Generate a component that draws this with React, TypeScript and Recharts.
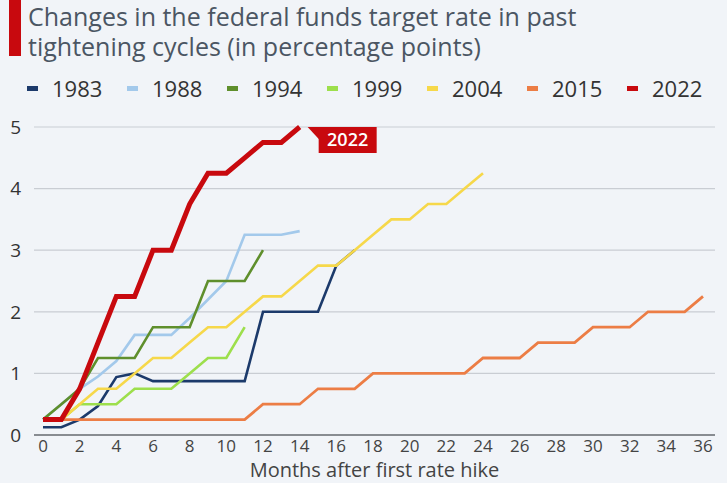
import { LineChart, Line, XAxis, YAxis, CartesianGrid, LabelList } from 'recharts';

const months = [0, 1, 2, 3, 4, 5, 6, 7, 8, 9, 10, 11, 12, 13, 14, 15, 16, 17, 18, 19, 20, 21, 22, 23, 24, 25, 26, 27, 28, 29, 30, 31, 32, 33, 34, 35, 36];
const xTicks = [0, 2, 4, 6, 8, 10, 12, 14, 16, 18, 20, 22, 24, 26, 28, 30, 32, 34, 36];
const yTicks = [0, 1, 2, 3, 4, 5];

const y1983 = [0.125, 0.125, 0.25, 0.47, 0.94, 1.0, 0.875, 0.875, 0.875, 0.875, 0.875, 0.875, 2.0, 2.0, 2.0, 2.0, 2.75, 3.0];
const y1988 = [0.25, 0.5, 0.75, 0.95, 1.2, 1.625, 1.625, 1.625, 1.9, 2.2, 2.5, 3.25, 3.25, 3.25, 3.31];
const y1994 = [0.25, 0.5, 0.75, 1.25, 1.25, 1.25, 1.75, 1.75, 1.75, 2.5, 2.5, 2.5, 3.0];
const y1999 = [0.25, 0.25, 0.5, 0.5, 0.5, 0.75, 0.75, 0.75, 1.0, 1.25, 1.25, 1.75];
const y2004 = [0.25, 0.25, 0.5, 0.75, 0.75, 1.0, 1.25, 1.25, 1.5, 1.75, 1.75, 2.0, 2.25, 2.25, 2.5, 2.75, 2.75, 3.0, 3.25, 3.5, 3.5, 3.75, 3.75, 4.0, 4.25];
const y2015 = [0.25, 0.25, 0.25, 0.25, 0.25, 0.25, 0.25, 0.25, 0.25, 0.25, 0.25, 0.25, 0.5, 0.5, 0.5, 0.75, 0.75, 0.75, 1.0, 1.0, 1.0, 1.0, 1.0, 1.0, 1.25, 1.25, 1.25, 1.5, 1.5, 1.5, 1.75, 1.75, 1.75, 2.0, 2.0, 2.0, 2.25];
const y2022 = [0.25, 0.25, 0.75, 1.5, 2.25, 2.25, 3.0, 3.0, 3.75, 4.25, 4.25, 4.5, 4.75, 4.75, 5.0];

const titleLines = ['Changes in the federal funds target rate in past', 'tightening cycles (in percentage points)'];

const series = [
  { key: '1983', values: y1983, color: '#1c3a6b', width: 2.6 },
  { key: '1988', values: y1988, color: '#a3c9eb', width: 2.6 },
  { key: '1994', values: y1994, color: '#5f8f2c', width: 2.6 },
  { key: '1999', values: y1999, color: '#9ddf4c', width: 2.6 },
  { key: '2004', values: y2004, color: '#f6d84a', width: 2.6 },
  { key: '2015', values: y2015, color: '#ec7d45', width: 2.8 },
  { key: '2022', values: y2022, color: '#c8090e', width: 5 },
];

const data = months.map((m, i) => {
  const row: Record<string, number | undefined> = { month: m };
  series.forEach(s => { row['y' + s.key] = s.values[i]; });
  return row;
});

const FONT = '"Open Sans", "Noto Sans", sans-serif';
const BG = '#f1f4f8';

// callout box at the end of the 2022 line
function EndLabel(props: any) {
  const { x, y, index } = props;
  if (index !== y2022.length - 1) return null;
  return (
    <g>
      <polygon points={`${x + 8},${y} ${x + 20},${y} ${x + 20},${y + 13}`} fill="#c8090e" />
      <rect x={x + 19} y={y} width={58} height={26} fill="#c8090e" />
      <text x={x + 48} y={y + 19} textAnchor="middle" fill="#fff" fontSize={18} fontWeight={600} fontFamily={FONT}>
        2022
      </text>
    </g>
  );
}

export default function App() {
  return (
    <div style={{ position: 'relative', width: 727, height: 483, background: BG, fontFamily: FONT, overflow: 'hidden' }}>
      <style>{'body{margin:0}'}</style>
      <div style={{ position: 'absolute', left: 9, top: -4, width: 12, height: 60, background: '#c8090e' }} />
      {titleLines.map((t, i) => (
        <div key={i} style={{ position: 'absolute', left: 28, top: 2 + i * 30, fontSize: 25, lineHeight: '28px', color: '#4b5663', whiteSpace: 'nowrap' }}>
          {t}
        </div>
      ))}
      <div style={{ position: 'absolute', left: 27, top: 75, display: 'flex', fontSize: 22, color: '#333', lineHeight: '26px' }}>
        {series.map(s => (
          <div key={s.key} style={{ display: 'flex', alignItems: 'center', width: 100 }}>
            <span style={{ display: 'inline-block', width: 11, height: 5, background: s.color, marginRight: 14 }} />
            {s.key}
          </div>
        ))}
      </div>
      <div style={{ position: 'absolute', left: 0, top: 0 }}>
        <LineChart width={727} height={483} data={data} margin={{ top: 127, right: 12, bottom: 0, left: 8 }}>
          <CartesianGrid vertical={false} stroke="#c9cdd3" strokeWidth={1.2} />
          <XAxis
            dataKey="month"
            type="number"
            domain={[0, 36]}
            ticks={xTicks}
            interval={0}
            padding={{ left: 9, right: 12 }}
            axisLine={{ stroke: '#6b6f75', strokeWidth: 1.5 }}
            tickLine={false}
            tickSize={0}
            tickMargin={5}
            tick={{ fontSize: 17, fill: '#444', fontFamily: FONT }}
            height={48}
            label={{ value: 'Months after first rate hike', position: 'insideBottom', offset: 6, fontSize: 20, fill: '#444', fontFamily: FONT }}
          />
          <YAxis
            type="number"
            domain={[0, 5]}
            ticks={yTicks}
            width={26}
            axisLine={false}
            tickLine={false}
            tickSize={0}
            tickMargin={13}
            tick={{ fontSize: 19, fill: '#333', fontFamily: FONT }}
          />
          {series.map(s => (
            <Line
              key={s.key}
              dataKey={'y' + s.key}
              stroke={s.color}
              strokeWidth={s.width}
              dot={false}
              activeDot={false}
              isAnimationActive={false}
              type="linear"
            >
              {s.key === '2022' && <LabelList dataKey="y2022" content={EndLabel} />}
            </Line>
          ))}
        </LineChart>
      </div>
    </div>
  );
}
